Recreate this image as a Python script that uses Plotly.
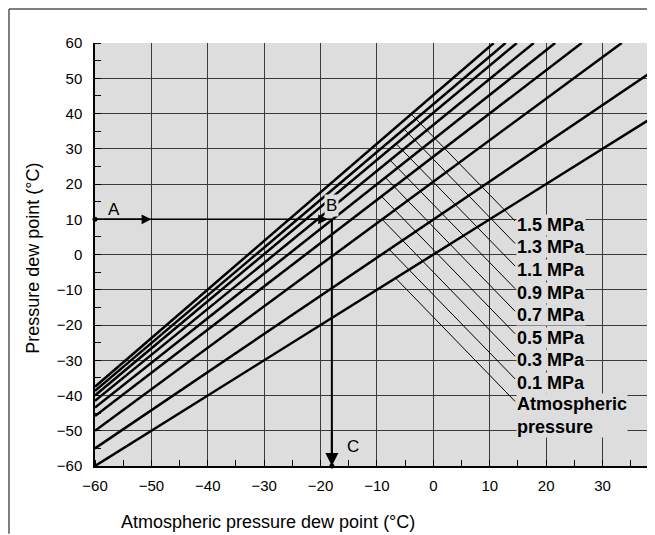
import plotly.graph_objects as go

# dew point lines (start / end points in deg C)
names = ['Atmospheric pressure', '0.1 MPa', '0.3 MPa', '0.5 MPa', '0.7 MPa',
         '0.9 MPa', '1.1 MPa', '1.3 MPa', '1.5 MPa']
x_start = [-60, -60, -60, -60, -60, -60, -60, -60, -60]
y_start = [-60, -55, -50, -45.8, -43.4, -41.5, -40.0, -38.7, -37.5]
x_end = [40, 40, 33.4, 26.3, 21.6, 17.8, 14.8, 12.8, 10.7]
y_end = [40, 53.2, 60, 60, 60, 60, 60, 60, 60]

# label rows on the right and where their leader lines leave each curve
label_text = ['Atmospheric<br>pressure', '0.1 MPa', '0.3 MPa', '0.5 MPa', '0.7 MPa',
              '0.9 MPa', '1.1 MPa', '1.3 MPa', '1.5 MPa']
label_y = [-42.8, -36.4, -30.0, -23.6, -17.2, -10.8, -4.4, 2.0, 8.4]
leader_x0 = [-6.7, -7.8, -9.1, -9.2, -8.5, -7.7, -6.6, -5.2, -3.9]
leader_y0 = [-6.7, 1.4, 10.0, 16.5, 21.8, 26.8, 31.4, 35.6, 39.8]
leader_x1 = 14.5

# worked example A -> B -> C
ex_pressure_dp = 10
ex_atm_dp = -18

xticks = [-60, -50, -40, -30, -20, -10, 0, 10, 20, 30]
yticks = [-60, -50, -40, -30, -20, -10, 0, 10, 20, 30, 40, 50, 60]

bg = '#dddddd'
font = 'Liberation Sans, Arial, sans-serif'

fig = go.Figure()

for i in range(len(names)):
    fig.add_trace(go.Scatter(
        name=names[i],
        x=[x_start[i], x_end[i]], y=[y_start[i], y_end[i]],
        mode='lines', line={'color': 'black', 'width': 2.5},
        showlegend=False))

for i in range(len(names)):
    fig.add_trace(go.Scatter(
        x=[leader_x0[i], leader_x1], y=[leader_y0[i], label_y[i] + 1.1],
        mode='lines', line={'color': 'black', 'width': 1},
        showlegend=False))

# example path
fig.add_trace(go.Scatter(
    x=[-60, ex_atm_dp], y=[ex_pressure_dp, ex_pressure_dp],
    mode='lines', line={'color': 'black', 'width': 1.5}, showlegend=False))
fig.add_trace(go.Scatter(
    x=[ex_atm_dp, ex_atm_dp], y=[ex_pressure_dp, -60],
    mode='lines', line={'color': 'black', 'width': 2}, showlegend=False))
fig.add_trace(go.Scatter(
    x=[-60, ex_atm_dp], y=[ex_pressure_dp, -60],
    mode='markers', marker={'color': 'black', 'size': 5},
    cliponaxis=False, showlegend=False))

annotations = []
for i in range(len(names)):
    annotations.append(dict(
        x=leader_x1 + 0.1, y=label_y[i], xref='x', yref='y',
        text='<b>' + label_text[i] + '</b>', showarrow=False,
        xanchor='left', yanchor='middle', align='left',
        font={'family': font, 'size': 18, 'color': 'black'},
        bgcolor=bg, borderpad=0))
# fix the two-line label so its first line sits on its row
annotations[0]['yanchor'] = 'top'
annotations[0]['y'] = label_y[0] + 3.4

arrow = dict(xref='x', yref='y', axref='x', ayref='y', text='', showarrow=True,
             arrowhead=2, arrowsize=1.3, arrowcolor='black')
annotations.append(dict(arrow, x=-50, y=ex_pressure_dp, ax=-60, ay=ex_pressure_dp, arrowwidth=1.5))
annotations.append(dict(arrow, x=-18.7, y=ex_pressure_dp, ax=-22, ay=ex_pressure_dp, arrowwidth=1.5))
annotations.append(dict(arrow, x=ex_atm_dp, y=-60, ax=ex_atm_dp, ay=-50, arrowwidth=2))

for t, x, y, b in [('A', -56.6, 12.9, 'rgba(0,0,0,0)'), ('B', -18.0, 14.0, bg), ('C', -14.3, -54.6, 'rgba(0,0,0,0)')]:
    annotations.append(dict(x=x, y=y, xref='x', yref='y', text=t, showarrow=False,
                            font={'family': font, 'size': 17, 'color': 'black'},
                            bgcolor=b, borderpad=1))

annotations.append(dict(x=0.309, y=-0.132, xref='paper', yref='paper', showarrow=False,
                        xanchor='center', yanchor='middle',
                        text='Atmospheric pressure dew point (°C)',
                        font={'family': font, 'size': 18, 'color': 'black'}))
annotations.append(dict(x=-0.111, y=0.492, xref='paper', yref='paper', showarrow=False,
                        xanchor='center', yanchor='middle',
                        text='Pressure dew point (°C)', textangle=-90,
                        font={'family': font, 'size': 18, 'color': 'black'}))

# outer frame of the original figure (cropped on the right and bottom)
shapes = [
    dict(type='line', xref='paper', yref='paper', x0=-0.1536, y0=1.0804, x1=1.0, y1=1.0804,
         line={'color': '#555555', 'width': 1.5}),
    dict(type='line', xref='paper', yref='paper', x0=-0.1536, y0=1.0804, x1=-0.1536, y1=-0.16,
         line={'color': '#555555', 'width': 1.5}),
]

# page body adds 8px, so the figure is 8px smaller and margins shifted
fig.update_layout(
    width=647, height=527,
    margin=dict(l=87, r=0, t=35, b=69),
    paper_bgcolor='white', plot_bgcolor=bg,
    annotations=annotations, shapes=shapes,
    font={'family': font, 'size': 15, 'color': 'black'},
    xaxis=dict(range=[-60, 39.3], tickvals=xticks, showgrid=True,
               gridcolor='#3a3a3a', gridwidth=1, zeroline=False,
               showline=True, linecolor='black', linewidth=1.5,
               ticks='outside', ticklen=5, tickcolor='rgba(0,0,0,0)',
               minor=dict(dtick=5, tick0=-55, ticks='inside', ticklen=6,
                          tickcolor='black', showgrid=False)),
    yaxis=dict(range=[-60, 60], tickvals=yticks, showgrid=True,
               gridcolor='#3a3a3a', gridwidth=1, zeroline=False,
               showline=True, linecolor='black', linewidth=1.5,
               ticks='outside', ticklen=8, tickcolor='rgba(0,0,0,0)',
               minor=dict(dtick=5, tick0=-55, ticks='inside', ticklen=6,
                          tickcolor='black', showgrid=False)),
)

fig.write_html('out.html')
